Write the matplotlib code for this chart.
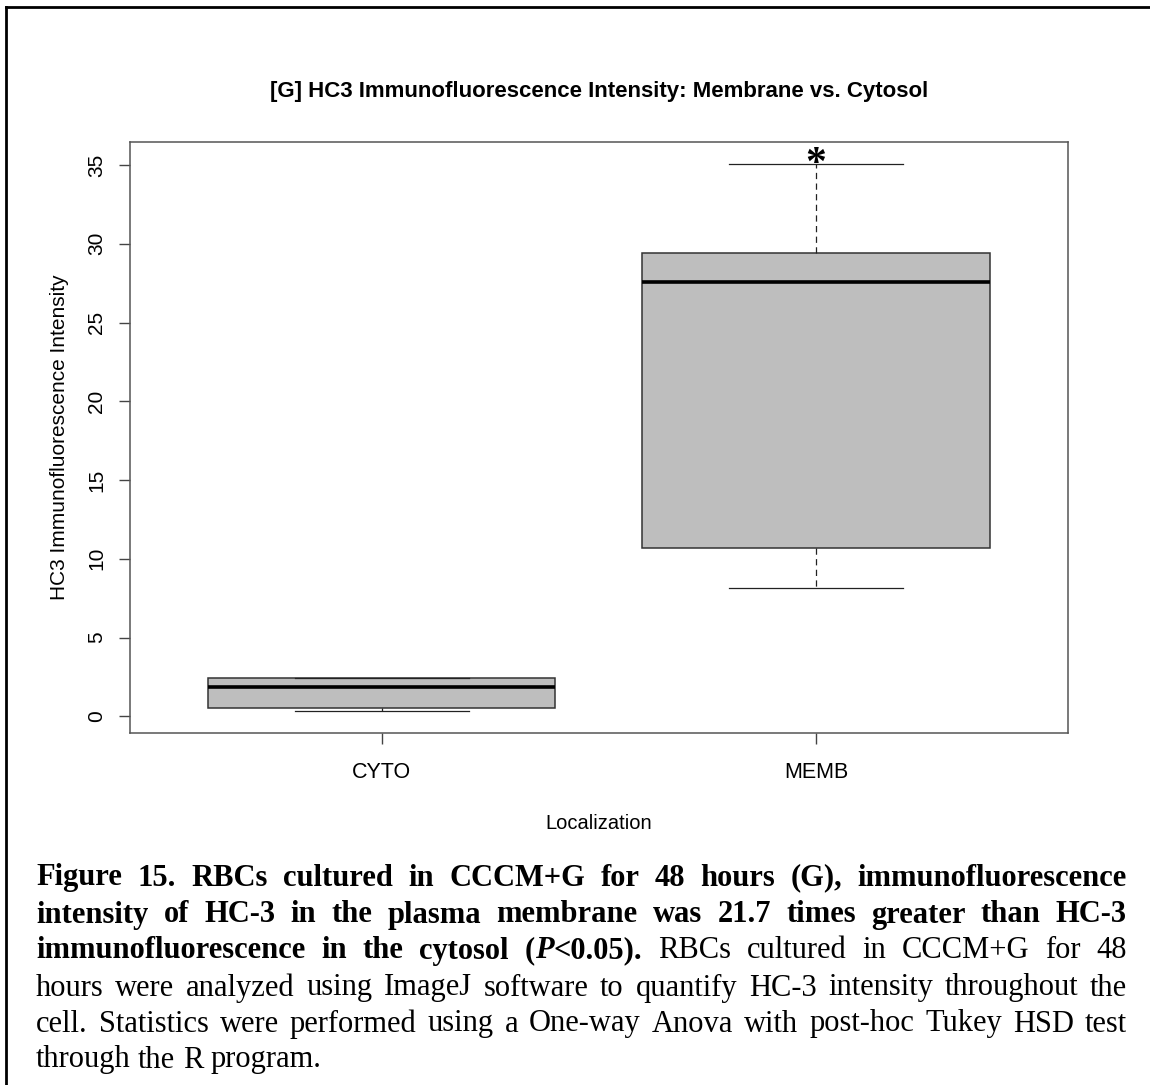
import matplotlib
matplotlib.use("Agg")
import matplotlib.pyplot as plt
from matplotlib.lines import Line2D

# Data
groups = ["CYTO", "MEMB"]
whislo = [0.33, 8.15]
q1 = [0.55, 10.67]
med = [1.84, 27.57]
q3 = [2.45, 29.43]
whishi = [2.45, 35.07]
star_group = 2
star_value = 35.0

title = "[G] HC3 Immunofluorescence Intensity: Membrane vs. Cytosol"
xlabel = "Localization"
ylabel = "HC3 Immunofluorescence Intensity"
yticks = [0, 5, 10, 15, 20, 25, 30, 35]

# caption runs: (text, weight, style)
caption = [
    [("Figure 15. RBCs cultured in CCCM+G for 48 hours (G), immunofluorescence", "bold", "normal")],
    [("intensity of HC-3 in the plasma membrane was 21.7 times greater than HC-3", "bold", "normal")],
    [("immunofluorescence in the cytosol (", "bold", "normal"), ("P", "bold", "italic"),
     ("<0.05).", "bold", "normal"), (" RBCs cultured in CCCM+G for 48", "normal", "normal")],
    [("hours were analyzed using ImageJ software to quantify HC-3 intensity throughout the", "normal", "normal")],
    [("cell. Statistics were performed using a One-way Anova with post-hoc Tukey HSD test", "normal", "normal")],
    [("through the R program.", "normal", "normal")],
]

SANS = ["Liberation Sans", "DejaVu Sans"]
SERIF = ["Liberation Serif", "DejaVu Serif"]

W, H = 1150, 1085
fig = plt.figure(figsize=(W / 100, H / 100), dpi=100)
ax = fig.add_axes([130 / W, 1 - 733.3 / H, 937.7 / W, 591.6 / H])

stats = []
for i in range(len(groups)):
    stats.append(dict(label=groups[i], whislo=whislo[i], q1=q1[i], med=med[i],
                      q3=q3[i], whishi=whishi[i], fliers=[]))

ax.bxp(stats, positions=[1, 2], widths=0.8, capwidths=0.4, patch_artist=True,
       boxprops=dict(facecolor="#bebebe", edgecolor="#333333", linewidth=1.1),
       medianprops=dict(color="black", linewidth=2.6, solid_capstyle="butt"),
       whiskerprops=dict(color="#222222", linewidth=0.9, linestyle=(0, (5, 3.5))),
       capprops=dict(color="#222222", linewidth=0.9))

ax.text(star_group, star_value, "*", ha="center", va="center", fontsize=30,
        family=SERIF, fontweight="bold")

ax.set_xlim(0.42, 2.58)
ax.set_ylim(-1.08, 36.48)
ax.set_yticks(yticks)
ax.set_xticks([1, 2])
ax.set_xticklabels(groups, family=SANS, fontsize=15.5)
ax.set_yticklabels([str(v) for v in yticks], family=SANS, fontsize=15,
                   rotation=90, va="center")
ax.tick_params(axis="both", length=8, width=1, color="#444444")
ax.tick_params(axis="x", pad=13)
ax.tick_params(axis="y", pad=9)
for s in ax.spines.values():
    s.set_color("#555555")
    s.set_linewidth(1.1)

ax.set_xlabel(xlabel, family=SANS, fontsize=14.5, labelpad=22)
ax.set_ylabel(ylabel, family=SANS, fontsize=15, labelpad=13)
fig.text(598.9 / W, 1 - 91 / H, title, ha="center", va="center",
         family=SANS, fontsize=16, fontweight="bold")

# frame around the figure (top and left edges visible)
fig.add_artist(Line2D([5.5 / W, 5.5 / W], [0, 1 - 7 / H], color="black", linewidth=2,
                      transform=fig.transFigure))
fig.add_artist(Line2D([5.5 / W, 1], [1 - 7 / H, 1 - 7 / H], color="black", linewidth=2,
                      transform=fig.transFigure))

# justified caption
renderer = fig.canvas.get_renderer()
cap_size = 22
left_px, right_px = 36, 1127
line_y = [878, 915, 951, 988, 1024, 1060]


def split_words(runs):
    words = []
    for text, weight, style in runs:
        parts = text.split(" ")
        for j, p in enumerate(parts):
            if j == 0 and not text.startswith(" ") and words:
                if p:
                    words[-1].append((p, weight, style))
            elif p:
                words.append([(p, weight, style)])
    return words


def seg_width(seg):
    t = fig.text(0, 0, seg[0], fontsize=cap_size, family=SERIF,
                 fontweight=seg[1], fontstyle=seg[2])
    w = t.get_window_extent(renderer).width
    t.remove()
    return w


for k, runs in enumerate(caption):
    words = split_words(runs)
    widths = [[seg_width(s) for s in wd] for wd in words]
    total = sum(sum(w) for w in widths)
    last = k == len(caption) - 1
    if last or len(words) < 2:
        gap = seg_width(("a", "normal", "normal")) * 0.55
    else:
        gap = (right_px - left_px - total) / (len(words) - 1)
    x = left_px
    for wd, ws in zip(words, widths):
        for seg, w in zip(wd, ws):
            fig.text(x / W, 1 - line_y[k] / H, seg[0], fontsize=cap_size, family=SERIF,
                     fontweight=seg[1], fontstyle=seg[2], ha="left", va="center")
            x += w
        x += gap

fig.savefig("out.png", dpi=100)
